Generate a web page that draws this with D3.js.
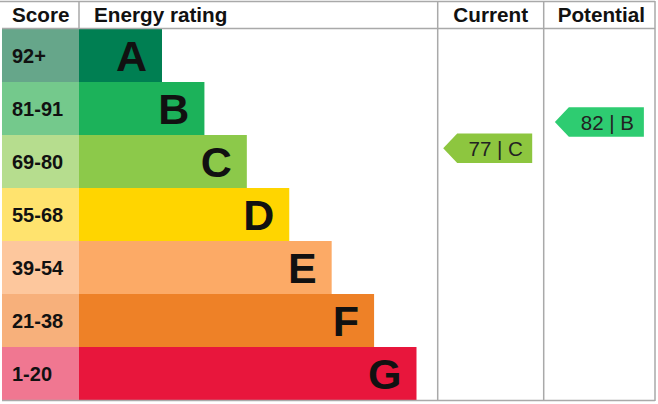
<!DOCTYPE html>
<html>
<head>
<meta charset="utf-8">
<script src="https://cdn.jsdelivr.net/npm/d3@7"></script>
<style>
  html, body { margin: 0; padding: 0; background: #fff; }
  svg { display: block; }
</style>
</head>
<body>
<svg id="chart" width="658" height="404"></svg>
<script>
// ---- data ----
const ratings = ["A", "B", "C", "D", "E", "F", "G"];
const scoreLabels = ["92+", "81-91", "69-80", "55-68", "39-54", "21-38", "1-20"];
const scoreLow = [92, 81, 69, 55, 39, 21, 1];
const scoreHigh = [100, 91, 80, 68, 54, 38, 20];
const barColors = ["#007f52", "#1cb25a", "#8cc94a", "#ffd500", "#fcaa66", "#ee8127", "#e8163c"];
const scoreColors = ["#66a68a", "#74c98c", "#b6dd8e", "#ffe36e", "#fdc79d", "#f7b07b", "#f07791"];
const headers = ["Score", "Energy rating", "Current", "Potential"];
const columns = ["Current", "Potential"];
const currentValue = 77, currentRating = "C";
const potentialValue = 82, potentialRating = "B";
const arrowColors = { C: "#8dc63f", B: "#2ecc71" };

// ---- layout ----
const svg = d3.select("#chart");
const lineColor = "#a9a9a9";
const top0 = 29, bottom0 = 400;
const scoreX0 = 2, barX0 = 79;
const colEdges = { Current: [437.7, 543.7], Potential: [543.7, 655] };

const y = d3.scaleBand().domain(ratings).range([top0, bottom0]).paddingInner(0);
const barEnd = d3.scaleLinear().domain([0, ratings.length - 1]).range([162, 416.5]);
const colCenter = c => (colEdges[c][0] + colEdges[c][1]) / 2;

// score cells
svg.selectAll("rect.score").data(ratings).join("rect")
  .attr("x", scoreX0).attr("y", d => y(d))
  .attr("width", barX0 - scoreX0).attr("height", y.bandwidth())
  .attr("fill", (d, i) => scoreColors[i]);

// bars
svg.selectAll("rect.bar").data(ratings).join("rect")
  .attr("x", barX0).attr("y", d => y(d))
  .attr("width", (d, i) => barEnd(i) - barX0).attr("height", y.bandwidth())
  .attr("fill", (d, i) => barColors[i]);

// score labels
svg.selectAll("text.score").data(ratings).join("text")
  .attr("x", 12).attr("y", d => y(d) + y.bandwidth() / 2 + 7)
  .attr("font-family", "Liberation Sans, Arial, sans-serif")
  .attr("font-weight", "bold").attr("font-size", 20).attr("fill", "#111")
  .text((d, i) => scoreLabels[i]);

// letters
svg.selectAll("text.letter").data(ratings).join("text")
  .attr("x", (d, i) => barEnd(i) - 15)
  .attr("y", d => y(d) + y.bandwidth() / 2 + 15)
  .attr("text-anchor", "end")
  .attr("font-family", "Liberation Sans, Arial, sans-serif")
  .attr("font-weight", "bold").attr("font-size", 43).attr("fill", "#111")
  .text(d => d);

// grid lines
const lines = [
  [0, 1.5, 655, 1.5],
  [2, 28.5, 655, 28.5],
  [2, 400.5, 655, 400.5],
  [barX0, 1, barX0, 29],
  [colEdges.Current[0], 1, colEdges.Current[0], 401],
  [colEdges.Potential[0], 1, colEdges.Potential[0], 401],
  [colEdges.Potential[1], 1, colEdges.Potential[1], 401]
];
svg.selectAll("line.grid").data(lines).join("line")
  .attr("x1", d => d[0]).attr("y1", d => d[1]).attr("x2", d => d[2]).attr("y2", d => d[3])
  .attr("stroke", lineColor).attr("stroke-width", 1.5);

// headers
const hdr = [
  { t: headers[0], x: 12, a: "start" },
  { t: headers[1], x: 94, a: "start" },
  { t: headers[2], x: colCenter("Current"), a: "middle" },
  { t: headers[3], x: colCenter("Potential") + 2, a: "middle" }
];
svg.selectAll("text.hdr").data(hdr).join("text")
  .attr("x", d => d.x).attr("y", 22).attr("text-anchor", d => d.a)
  .attr("font-family", "Liberation Sans, Arial, sans-serif")
  .attr("font-weight", "bold").attr("font-size", 20.7).attr("fill", "#111")
  .text(d => d.t);

// arrows
function arrowY(score) {
  const i = scoreLow.findIndex(lo => score >= lo);
  const top = y(ratings[i]), h = y.bandwidth();
  const frac = (scoreHigh[i] - score) / (scoreHigh[i] - scoreLow[i] + 1);
  const c = top + frac * h;
  return Math.max(top + 11.5, Math.min(top + h - 13, c));
}
const arrowH = 29.5, arrowW = 89, tip = 14;
const arrows = [
  { col: "Current", v: currentValue, r: currentRating, dx: -3 },
  { col: "Potential", v: potentialValue, r: potentialRating, dx: 0 }
];
const g = svg.selectAll("g.arrow").data(arrows).join("g")
  .attr("transform", d => {
    const cx = colCenter(d.col) + d.dx;
    return `translate(${cx - arrowW / 2},${arrowY(d.v) - arrowH / 2})`;
  });
g.append("path")
  .attr("d", `M0,${arrowH / 2} L${tip},0 L${arrowW},0 L${arrowW},${arrowH} L${tip},${arrowH} Z`)
  .attr("fill", d => arrowColors[d.r]);
g.append("text")
  .attr("x", (tip + arrowW) / 2 + 1).attr("y", arrowH / 2 + 7.5)
  .attr("text-anchor", "middle")
  .attr("font-family", "Liberation Sans, Arial, sans-serif")
  .attr("font-size", 20.5).attr("fill", "#222")
  .text(d => `${d.v} | ${d.r}`);
</script>
</body>
</html>
